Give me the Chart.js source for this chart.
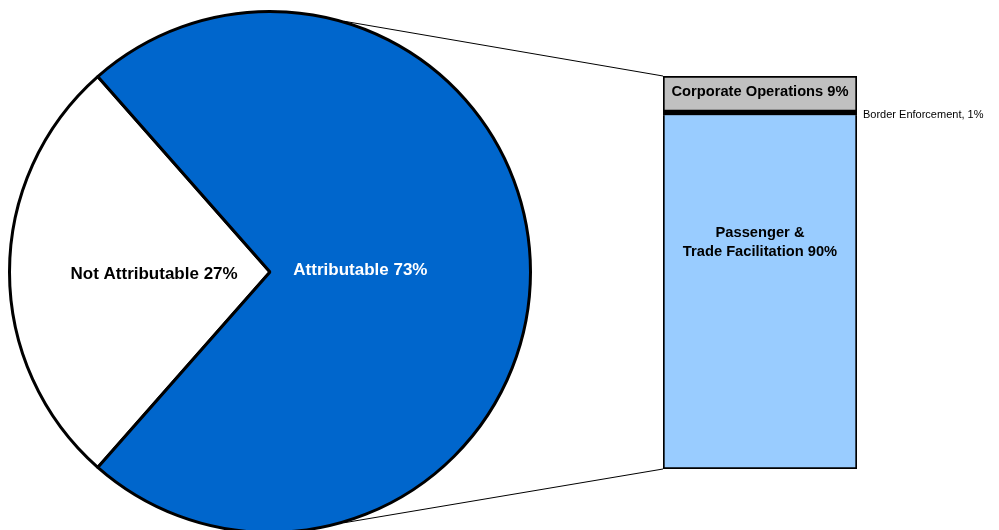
<!DOCTYPE html>
<html><head><meta charset="utf-8">
<script src="https://cdn.jsdelivr.net/npm/chart.js@4/dist/chart.umd.min.js"></script>
<style>
html,body{margin:0;padding:0;background:#fff;overflow:hidden;}
#wrap{position:relative;width:999px;height:530px;overflow:hidden;background:#fff;}
canvas{position:absolute;left:0;top:0;}
#bar{pointer-events:none;}
</style></head><body>
<div id="wrap">
<canvas id="pie" width="540" height="560" style="width:540px;height:560px"></canvas>
<canvas id="bar" width="999" height="530" style="width:999px;height:530px"></canvas>
</div>
<script>
// ---- data ----
const pieLabels = ['Not Attributable', 'Attributable'];
const pieValues = [27, 73];
const pieColors = ['#ffffff', '#0066cc'];
const pieTextColors = ['#000000', '#ffffff'];

const barCategories = ['Attributable'];
const barLabels = ['Passenger &\nTrade Facilitation', 'Border Enforcement', 'Corporate Operations'];
const barValues = [90, 1, 9];
const barColors = ['#99ccff', '#000000', '#c0c0c0'];

// ---- style constants ----
const FONT = "'Liberation Sans', Arial, Helvetica, sans-serif";
const pieLabelRadius = [0.445, 0.347];
const pieLabelDy = [2, -2];
const connectorAngleDeg = 73.5;
const barBorderWidths = [2, 0, 2];
const barBorderSkipped = ['top', false, false];

Chart.defaults.animation = false;

const pieTotal = pieValues.reduce((a, b) => a + b, 0);
const pieRotation = 270 - (pieValues[0] / pieTotal) * 360 / 2;

const pieLabelPlugin = {
  id: 'pieLabels',
  afterDatasetsDraw(chart) {
    const ctx = chart.ctx;
    const meta = chart.getDatasetMeta(0);
    ctx.save();
    ctx.font = 'bold 17px ' + FONT;
    ctx.textAlign = 'center';
    ctx.textBaseline = 'middle';
    meta.data.forEach((arc, i) => {
      const p = arc.getProps(['x', 'y', 'startAngle', 'endAngle', 'outerRadius'], true);
      const mid = (p.startAngle + p.endAngle) / 2;
      const r = p.outerRadius * pieLabelRadius[i];
      ctx.fillStyle = pieTextColors[i];
      ctx.fillText(pieLabels[i] + ' ' + pieValues[i] + '%', p.x + Math.cos(mid) * r, p.y + Math.sin(mid) * r + pieLabelDy[i]);
    });
    ctx.restore();
  }
};

const pieChart = new Chart(document.getElementById('pie'), {
  type: 'pie',
  data: {
    labels: pieLabels,
    datasets: [{
      data: pieValues,
      backgroundColor: pieColors,
      borderColor: '#000000',
      borderWidth: 3
    }]
  },
  options: {
    responsive: false,
    rotation: pieRotation,
    layout: { padding: { left: 8, right: 8, top: 10, bottom: 26 } },
    plugins: { legend: { display: false }, tooltip: { enabled: false } }
  },
  plugins: [pieLabelPlugin]
});

const barPlugin = {
  id: 'barExtras',
  beforeDatasetsDraw(chart) {
    const ctx = chart.ctx;
    const bottomEl = chart.getDatasetMeta(0).data[0];
    const topEl = chart.getDatasetMeta(barValues.length - 1).data[0];
    const left = bottomEl.x - bottomEl.width / 2;
    const arc = pieChart.getDatasetMeta(0).data[0];
    const R = arc.outerRadius + 1;
    const a = connectorAngleDeg * Math.PI / 180;
    ctx.save();
    ctx.strokeStyle = '#000000';
    ctx.lineWidth = 1;
    ctx.beginPath();
    ctx.moveTo(arc.x + R * Math.cos(a), arc.y - R * Math.sin(a));
    ctx.lineTo(left, topEl.y);
    ctx.moveTo(arc.x + R * Math.cos(a), arc.y + R * Math.sin(a));
    ctx.lineTo(left, bottomEl.base);
    ctx.stroke();
    ctx.restore();
  },
  afterDatasetsDraw(chart) {
    const ctx = chart.ctx;
    ctx.save();
    ctx.fillStyle = '#000000';
    barValues.forEach((v, i) => {
      const el = chart.getDatasetMeta(i).data[0];
      const top = Math.min(el.y, el.base), bot = Math.max(el.y, el.base);
      const h = bot - top;
      if (i === 1) {
        ctx.font = '11px ' + FONT;
        ctx.textAlign = 'left';
        ctx.textBaseline = 'middle';
        ctx.fillText(barLabels[i] + ', ' + v + '%', el.x + el.width / 2 + 6, (top + bot) / 2 + 2);
        return;
      }
      const lines = (barLabels[i] + ' ' + v + '%').split('\n');
      ctx.font = 'bold 14.7px ' + FONT;
      ctx.textAlign = 'center';
      ctx.textBaseline = 'middle';
      const lh = 19;
      const cy = lines.length > 1 ? top + h * 0.36 : (top + bot) / 2 - 1.5;
      lines.forEach((t, k) => {
        ctx.fillText(t, el.x, cy + (k - (lines.length - 1) / 2) * lh);
      });
    });
    ctx.restore();
  }
};

new Chart(document.getElementById('bar'), {
  type: 'bar',
  data: {
    labels: barCategories,
    datasets: barValues.map((v, i) => ({
      label: barLabels[i],
      data: [v],
      backgroundColor: barColors[i],
      borderColor: '#000000',
      borderWidth: barBorderWidths[i],
      borderSkipped: barBorderSkipped[i],
      barPercentage: 1,
      categoryPercentage: 1
    }))
  },
  options: {
    responsive: false,
    layout: { padding: { left: 663, right: 142, top: 76, bottom: 61 } },
    scales: {
      x: { stacked: true, display: false },
      y: { stacked: true, display: false, min: 0, max: 100 }
    },
    plugins: { legend: { display: false }, tooltip: { enabled: false } }
  },
  plugins: [barPlugin]
});
</script>
</body></html>
